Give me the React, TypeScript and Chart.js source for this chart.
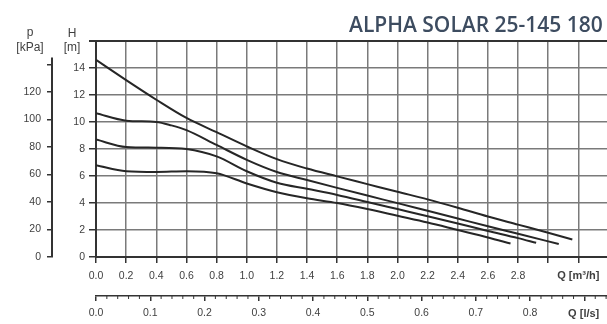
import React, { useEffect, useRef } from "react";
import { Chart, registerables } from "chart.js";

Chart.register(...registerables);

// ---- data ----
const chartTitle = "ALPHA SOLAR 25-145 180";
const flowUnitLabel = "Q [m³/h]";
const flowLsUnitLabel = "Q [l/s]";
const headTitle = ["H", "[m]"];
const pressTitle = ["p", "[kPa]"];

const qCurve1 = [0, 0.2, 0.4, 0.6, 0.8, 1.0, 1.2, 1.4, 1.6, 1.8, 2.0, 2.2, 2.4, 2.6, 2.8, 3.0, 3.16];
const hCurve1 = [14.6, 13.1, 11.65, 10.3, 9.25, 8.2, 7.25, 6.55, 5.97, 5.4, 4.83, 4.27, 3.65, 3.0, 2.4, 1.8, 1.3];

const qCurve2 = [0, 0.2, 0.4, 0.5, 0.6, 0.8, 1.0, 1.2, 1.4, 1.6, 1.8, 2.0, 2.2, 2.4, 2.6, 2.8, 3.07];
const hCurve2 = [10.65, 10.1, 10.0, 9.75, 9.4, 8.3, 7.2, 6.3, 5.7, 5.12, 4.55, 3.99, 3.42, 2.85, 2.28, 1.72, 0.96];

const qCurve3 = [0, 0.2, 0.4, 0.6, 0.8, 1.0, 1.2, 1.4, 1.6, 1.8, 2.0, 2.2, 2.4, 2.6, 2.8, 2.92];
const hCurve3 = [8.7, 8.15, 8.1, 8.0, 7.45, 6.35, 5.5, 5.05, 4.6, 4.08, 3.55, 3.02, 2.48, 1.93, 1.4, 1.05];

const qCurve4 = [0, 0.2, 0.4, 0.6, 0.8, 1.0, 1.2, 1.4, 1.6, 1.8, 2.0, 2.2, 2.4, 2.6, 2.75];
const hCurve4 = [6.8, 6.35, 6.3, 6.35, 6.2, 5.45, 4.8, 4.35, 4.0, 3.55, 3.05, 2.55, 2.0, 1.45, 1.0];

const qMax = 3.39; // m3/h, right edge
const hMax = 16; // m
const qLabelMax = 2.8;
const lsLabelMax = 0.8;
const kPaPerM = 9.81;
const kPaLabelMax = 120;
const kPaLineTop = 145;
const m3hPerLs = 3.6;

const curves = [
  [qCurve1, hCurve1],
  [qCurve2, hCurve2],
  [qCurve3, hCurve3],
  [qCurve4, hCurve4],
];

const TEXT = "#3f3f3f";
const AXIS = "#333";
const GRID = "#7a7a7a";
const FONT = "'Liberation Sans', Arial, sans-serif";

const decorPlugin = {
  id: "decor",
  afterDraw(chart: any) {
    const ctx = chart.ctx;
    const { x, x2, y, p } = chart.scales;
    ctx.save();
    // p axis line
    ctx.strokeStyle = AXIS;
    ctx.lineWidth = 2;
    ctx.beginPath();
    ctx.moveTo(p.right - 1, p.getPixelForValue(0));
    ctx.lineTo(p.right - 1, p.getPixelForValue(kPaLineTop));
    ctx.stroke();
    // minor ticks on l/s axis
    ctx.lineWidth = 1;
    for (let i = 1; i * 0.02 < x2.max; i++) {
      if (i % 5 === 0) continue;
      const px = x2.getPixelForValue(i * 0.02);
      ctx.beginPath();
      ctx.moveTo(px, x2.top);
      ctx.lineTo(px, x2.top + 3);
      ctx.stroke();
    }
    // axis titles
    ctx.fillStyle = TEXT;
    ctx.font = `12px ${FONT}`;
    ctx.textAlign = "center";
    ctx.textBaseline = "alphabetic";
    const pc = p.right - 23;
    ctx.fillText(pressTitle[0], pc, 36);
    ctx.fillText(pressTitle[1], pc, 51);
    const hc = y.right - 24;
    ctx.fillText(headTitle[0], hc, 37);
    ctx.fillText(headTitle[1], hc, 51);
    // flow unit labels
    ctx.textAlign = "left";
    ctx.font = `bold 11px ${FONT}`;
    ctx.fillText(flowUnitLabel, x.getPixelForValue(3.06), x.top + 22);
    ctx.fillText(flowLsUnitLabel, x2.getPixelForValue(0.87), x2.top + 21);
    // title
    ctx.fillStyle = "#3d4c60";
    ctx.font = `600 21px 'Open Sans', sans-serif`;
    ctx.fillText(chartTitle, 349, 32);
    ctx.restore();
  },
};

export default function App() {
  const ref = useRef<HTMLCanvasElement | null>(null);
  useEffect(() => {
    if (!ref.current) return;
    const chart = new Chart(ref.current, {
      type: "line",
      data: {
        datasets: curves.map(([qs, hs]) => ({
          data: qs.map((q, i) => ({ x: q, y: hs[i] })),
          borderColor: "#262626",
          borderWidth: 2,
          pointRadius: 0,
          fill: false,
          cubicInterpolationMode: "monotone",
          xAxisID: "x",
          yAxisID: "y",
        })),
      },
      options: {
        responsive: false,
        animation: false,
        devicePixelRatio: 1,
        layout: { padding: { top: 41, right: 0, left: 0, bottom: 0 } },
        plugins: { legend: { display: false }, tooltip: { enabled: false } },
        scales: {
          x: {
            type: "linear",
            position: "bottom",
            weight: 0,
            min: 0,
            max: qMax,
            ticks: {
              stepSize: 0.2,
              includeBounds: false,
              autoSkip: false,
              maxRotation: 0,
              padding: 7,
              color: TEXT,
              font: { family: FONT, size: 10.5 },
              callback: (v: any) => (v <= qLabelMax + 0.01 ? Number(v).toFixed(1) : ""),
            },
            grid: { color: GRID, lineWidth: 1.5, tickLength: 6, tickColor: AXIS },
            border: { display: true, color: AXIS, width: 2 },
            afterFit: (s: any) => {
              s.height = 39;
            },
          },
          x2: {
            type: "linear",
            position: "bottom",
            weight: 1,
            min: 0,
            max: qMax / m3hPerLs,
            ticks: {
              stepSize: 0.1,
              includeBounds: false,
              autoSkip: false,
              maxRotation: 0,
              padding: 6,
              color: TEXT,
              font: { family: FONT, size: 10.5 },
              callback: (v: any) => (v <= lsLabelMax + 0.01 ? Number(v).toFixed(1) : ""),
            },
            grid: { drawOnChartArea: false, tickLength: 5, tickColor: AXIS, lineWidth: 1.5 },
            border: { display: true, color: AXIS, width: 1.5 },
            afterFit: (s: any) => {
              s.height = 28;
            },
          },
          y: {
            type: "linear",
            position: "left",
            weight: 0,
            min: 0,
            max: hMax,
            ticks: {
              stepSize: 2,
              includeBounds: false,
              padding: 4,
              color: TEXT,
              font: { family: FONT, size: 10.5 },
              callback: (v: any) => (v < hMax ? String(v) : ""),
            },
            grid: {
              color: (c: any) => (c.tick && c.tick.value === hMax ? AXIS : GRID),
              lineWidth: (c: any) => (c.tick && c.tick.value === hMax ? 2 : 1.5),
              tickLength: 7,
              tickColor: AXIS,
            },
            border: { display: true, color: AXIS, width: 2 },
            afterFit: (s: any) => {
              s.width = 43;
            },
          },
          p: {
            type: "linear",
            position: "left",
            weight: 1,
            min: 0,
            max: hMax * kPaPerM,
            ticks: {
              stepSize: 20,
              includeBounds: false,
              padding: 6,
              color: TEXT,
              font: { family: FONT, size: 10.5 },
              callback: (v: any) => (v <= kPaLabelMax ? String(v) : ""),
            },
            grid: { drawOnChartArea: false, tickLength: 6, tickColor: AXIS, lineWidth: 1.5 },
            border: { display: false },
            afterFit: (s: any) => {
              s.width = 53;
            },
          },
        },
      },
      plugins: [decorPlugin],
    } as any);
    return () => chart.destroy();
  }, []);
  return (
    <div style={{ position: "absolute", left: 0, top: 0, width: 607, height: 324, background: "#fff", overflow: "hidden" }}>
      <canvas ref={ref} width={607} height={324} style={{ display: "block" }} />
    </div>
  );
}
